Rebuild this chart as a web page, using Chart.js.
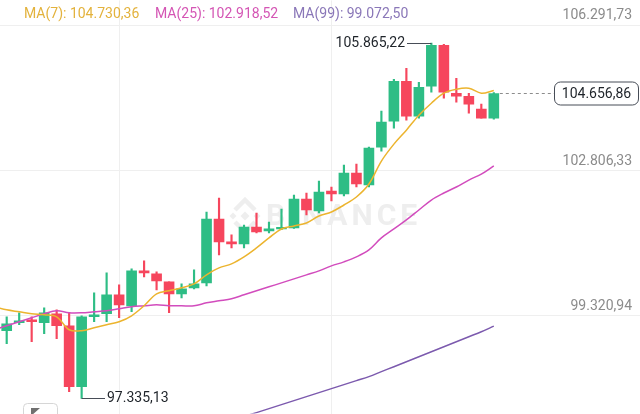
<!DOCTYPE html>
<html>
<head>
<meta charset="utf-8">
<script src="https://cdn.jsdelivr.net/npm/chart.js@4.4.1/dist/chart.umd.min.js"></script>
<style>
html,body{margin:0;padding:0;background:#fff;overflow:hidden}
#wrap{width:640px;height:414px;position:relative}
</style>
</head>
<body>
<div id="wrap"><canvas id="c" width="640" height="414"></canvas></div>
<script>
// ---- data ----
const candleIndex = [0,1,2,3,4,5,6,7,8,9,10,11,12,13,14,15,16,17,18,19,20,21,22,23,24,25,26,27,28,29,30,31,32,33,34,35,36,37,38,39,40];
const opens = [99584.61,98961.81,99153.44,99225.30,99153.44,99369.02,99081.58,97620.38,99297.16,99369.02,99824.15,99560.66,100399.05,100327.18,100135.55,99848.10,99991.83,100111.60,101644.65,101093.71,101045.80,101453.02,101357.21,101405.11,101429.07,102123.73,101836.29,102315.37,102243.50,102746.54,102459.09,103369.34,103992.15,104950.31,104111.92,104830.54,105812.65,104662.86,104591.00,104279.59,104064.01];
const highs = [99800.20,99297.16,99392.98,99297.16,99512.75,99464.84,99392.98,99320.00,99872.06,100351.14,100063.69,100446.95,100638.58,100375.09,100135.55,100087.64,100423.00,101812.33,102147.69,101261.39,101500.93,101788.38,101572.79,101884.19,102219.55,102267.46,102554.91,102411.18,102938.17,102962.12,103369.34,104231.69,104998.21,105261.71,104926.35,105865.22,105836.60,105022.17,104662.86,104399.36,104680.00];
const lows = [98985.76,98650.40,99105.53,98698.31,98889.94,98770.17,97500.61,97335.13,99177.39,99177.39,99273.21,99416.93,100255.32,99943.92,99392.98,99752.29,99967.87,100039.74,100782.31,100949.99,100949.99,101309.30,101309.30,101390.00,101420.00,101740.47,101788.38,102075.83,102195.60,102411.18,102411.18,103273.53,103824.47,104016.10,104064.01,104686.81,104543.09,104447.27,104183.78,104064.01,104040.00];
const closes = [99392.98,99129.48,99201.35,99177.39,99392.98,99081.58,97620.38,99297.16,99345.07,99824.15,99584.61,100399.05,100351.14,100159.51,99848.10,99967.87,100087.64,101644.65,101093.71,101045.80,101453.02,101333.25,101405.11,101429.07,102123.73,101860.24,102291.41,102243.50,102746.54,102483.04,103345.39,103968.19,104950.31,104111.92,104806.58,105812.65,104686.81,104591.00,104399.36,104064.01,104656.86];
const ma7 = [99536.70,99464.84,99416.93,99369.02,99345.07,99297.16,98985.76,98961.81,99033.67,99105.53,99177.39,99321.12,99560.66,99848.10,99919.97,99991.83,100087.64,100303.23,100470.91,100566.72,100734.40,100949.99,101189.53,101405.11,101476.98,101548.84,101716.52,101812.33,101980.01,102171.64,102483.04,103033.99,103441.20,103776.56,104135.87,104423.32,104662.86,104758.67,104782.63,104662.86,104730.36];
const ma25 = [98985.76,99081.58,99177.39,99273.21,99369.02,99440.89,99392.98,99392.98,99416.93,99440.89,99488.79,99536.70,99560.66,99584.61,99560.66,99560.66,99560.66,99632.52,99680.43,99728.33,99824.15,99919.97,100015.78,100111.60,100207.41,100303.23,100399.05,100518.82,100614.63,100734.40,100902.08,101189.53,101405.11,101620.70,101860.24,102099.78,102267.46,102411.18,102578.86,102722.59,102918.52];
const ma99 = [null,null,null,null,null,null,null,null,null,null,null,null,null,null,null,null,null,null,null,null,96901.76,96997.58,97093.39,97189.21,97285.03,97380.84,97476.66,97572.47,97668.29,97764.11,97859.92,97979.69,98099.46,98219.23,98339.00,98458.77,98578.54,98698.31,98818.08,98937.85,99072.50];
const yTickValues = [95835.54, 99320.94, 102806.33, 106291.73];
const xGridValues = [10.07, 26.97];
const maNames = ['MA(7)', 'MA(25)', 'MA(99)'];
const lastPrice = 104656.86;
const highMarkIndex = 35;
const lowMarkIndex = 7;

// ---- styling ----
const UP = '#2ebd85', DOWN = '#f6465d';
const MA_LINE = ['#ecb42e', '#d24cbd', '#7c5aae'];
const MA_TEXT = ['#e3b23c', '#d455b4', '#8a77b8'];
const FONT = 'Roboto, "Open Sans", sans-serif';

function fmt(v){
  const parts = v.toFixed(2).split('.');
  return parts[0].replace(/\B(?=(\d{3})+(?!\d))/g, '.') + ',' + parts[1];
}

const candleColors = candleIndex.map(i => closes[i] >= opens[i] ? UP : DOWN);
const toPts = arr => candleIndex.filter(i => arr[i] !== null).map(i => ({x: i, y: arr[i]}));

const watermark = {
  id: 'watermark',
  beforeDatasetsDraw(chart){
    const c = chart.ctx;
    c.save();
    c.fillStyle = '#eeeeee';
    c.strokeStyle = '#eeeeee';
    const cx = 245, cy = 216;
    const diamond = (x, y, s) => { c.beginPath(); c.moveTo(x, y - s); c.lineTo(x + s, y); c.lineTo(x, y + s); c.lineTo(x - s, y); c.closePath(); c.fill(); };
    diamond(cx, cy, 4.5);
    diamond(cx - 12, cy, 3.5);
    diamond(cx + 12, cy, 3.5);
    c.lineWidth = 4.5;
    c.lineJoin = 'miter';
    c.beginPath(); c.moveTo(cx - 10, cy - 6); c.lineTo(cx, cy - 16); c.lineTo(cx + 10, cy - 6); c.stroke();
    c.beginPath(); c.moveTo(cx - 10, cy + 6); c.lineTo(cx, cy + 16); c.lineTo(cx + 10, cy + 6); c.stroke();
    c.font = 'bold 30px ' + FONT;
    try { c.letterSpacing = '4px'; } catch(e) {}
    c.textBaseline = 'middle';
    c.textAlign = 'left';
    c.fillText('BINANCE', 266, 217);
    c.restore();
  }
};

const overlays = {
  id: 'overlays',
  afterDatasetsDraw(chart){
    const c = chart.ctx;
    const xs = chart.scales.x, ys = chart.scales.y;
    c.save();
    // legend
    c.font = '14px ' + FONT;
    c.textBaseline = 'middle';
    c.textAlign = 'left';
    const maVals = [ma7[ma7.length - 1], ma25[ma25.length - 1], ma99[ma99.length - 1]];
    const legendX = [24, 155, 293];
    for (let k = 0; k < 3; k++){
      c.fillStyle = MA_TEXT[k];
      c.fillText(maNames[k] + ': ' + fmt(maVals[k]), legendX[k], 14);
    }
    // last price dashed line and tag
    const py = Math.round(ys.getPixelForValue(lastPrice)) + 0.5;
    const lastX = xs.getPixelForValue(candleIndex[candleIndex.length - 1]) + 6;
    c.strokeStyle = '#8c8c8c';
    c.lineWidth = 1;
    c.setLineDash([3, 3]);
    c.beginPath(); c.moveTo(lastX, py); c.lineTo(554, py); c.stroke();
    c.setLineDash([]);
    c.fillStyle = '#ffffff';
    c.strokeStyle = '#474d57';
    c.beginPath(); c.roundRect(554.5, py - 11.5, 84, 23, 6); c.fill(); c.stroke();
    c.fillStyle = '#1e2329';
    c.textAlign = 'center';
    c.fillText(fmt(lastPrice), 596.5, py + 0.5);
    // high marker
    const hy = Math.round(ys.getPixelForValue(highs[highMarkIndex])) + 0.5;
    const hx = xs.getPixelForValue(highMarkIndex);
    c.strokeStyle = '#474d57';
    c.beginPath(); c.moveTo(407, hy); c.lineTo(hx, hy); c.stroke();
    c.textAlign = 'right';
    c.fillStyle = '#1e2329';
    c.fillText(fmt(highs[highMarkIndex]), 405, hy);
    // low marker
    const ly = Math.round(ys.getPixelForValue(lows[lowMarkIndex])) - 0.5;
    const lx = xs.getPixelForValue(lowMarkIndex);
    c.beginPath(); c.moveTo(lx, ly); c.lineTo(105, ly); c.stroke();
    c.textAlign = 'left';
    c.fillText(fmt(lows[lowMarkIndex]), 107, ly);
    // bottom-left button
    c.strokeStyle = '#d6d6d6';
    c.fillStyle = '#ffffff';
    c.beginPath(); c.roundRect(23.5, 403.5, 34, 22, 4); c.fill(); c.stroke();
    c.fillStyle = '#707070';
    c.beginPath(); c.moveTo(31, 408); c.lineTo(40, 408); c.lineTo(31, 416); c.closePath(); c.fill();
    c.restore();
  }
};

const pxPerCandle = 12.49;
const xMin = 1 - 6.7 / pxPerCandle;
const xMax = xMin + 640 / pxPerCandle;

function build(){
  new Chart(document.getElementById('c'), {
    type: 'bar',
    data: {
      datasets: [
        {type: 'line', label: 'MA7', data: toPts(ma7), borderColor: MA_LINE[0], borderWidth: 1.5, pointRadius: 0, tension: 0.35, order: 1},
        {type: 'line', label: 'MA25', data: toPts(ma25), borderColor: MA_LINE[1], borderWidth: 1.5, pointRadius: 0, tension: 0.35, order: 2},
        {type: 'line', label: 'MA99', data: toPts(ma99), borderColor: MA_LINE[2], borderWidth: 1.5, pointRadius: 0, tension: 0.35, order: 3},
        {type: 'bar', label: 'body', data: candleIndex.map(i => ({x: i, y: [opens[i], closes[i]]})), backgroundColor: candleColors, borderWidth: 0, barThickness: 10, minBarLength: 1.5, grouped: false, order: 4},
        {type: 'bar', label: 'wick', data: candleIndex.map(i => ({x: i, y: [lows[i], highs[i]]})), backgroundColor: candleColors, borderWidth: 0, barThickness: 1.5, grouped: false, order: 5}
      ]
    },
    options: {
      responsive: false,
      animation: false,
      devicePixelRatio: 1,
      layout: {padding: 0, autoPadding: false},
      plugins: {legend: {display: false}, tooltip: {enabled: false}},
      scales: {
        x: {
          type: 'linear', min: xMin, max: xMax, offset: false,
          afterBuildTicks: s => { s.ticks = xGridValues.map(v => ({value: v})); },
          ticks: {display: false},
          grid: {color: '#efefef', drawTicks: false, offset: false},
          border: {display: false}
        },
        y: {
          type: 'linear', position: 'right', min: 96973.4, max: 106890.6,
          afterBuildTicks: s => { s.ticks = yTickValues.map(v => ({value: v})); },
          afterFit: s => { s.width = 0; },
          ticks: {mirror: true, padding: -8, labelOffset: -9.5, color: '#8b8b8b', font: {family: FONT, size: 14}, callback: v => fmt(v)},
          grid: {color: '#efefef', drawTicks: false},
          border: {display: false}
        }
      }
    },
    plugins: [watermark, overlays]
  });
}
if (document.fonts && document.fonts.load) {
  document.fonts.load('14px Roboto').then(build, build);
} else { build(); }
</script>
</body>
</html>
